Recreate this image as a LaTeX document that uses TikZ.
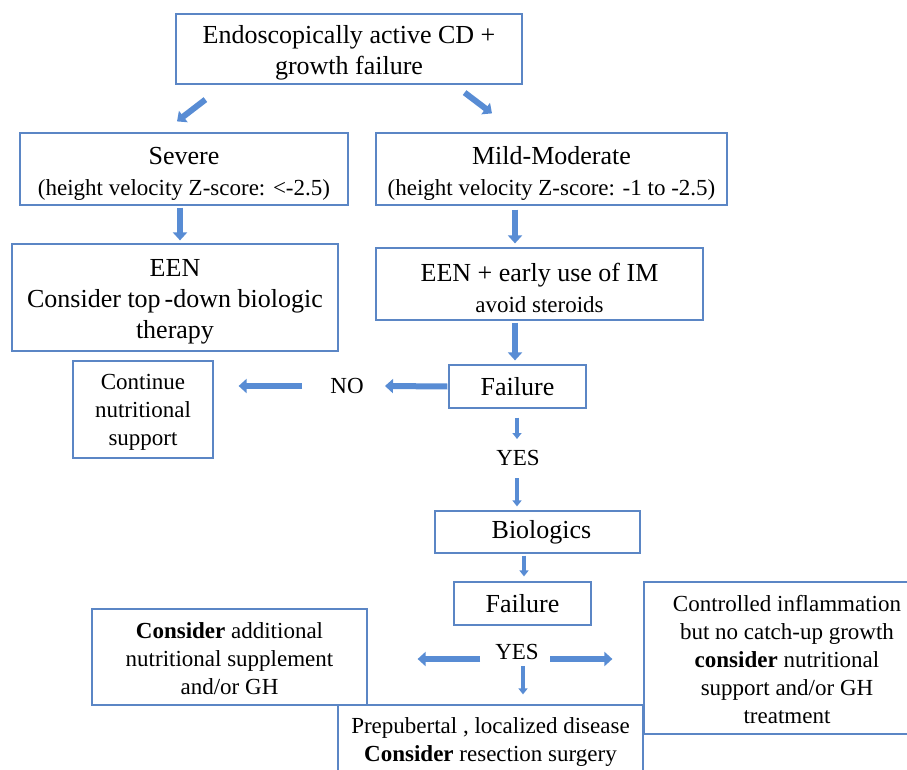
\documentclass[tikz,border=0pt]{standalone}
\usepackage{fontspec}
\setmainfont{Liberation Serif}
\usetikzlibrary{arrows.meta}
\definecolor{boxblue}{RGB}{91,134,197}
\definecolor{arrowblue}{RGB}{88,140,212}
\newcommand{\boxfont}{\fontsize{26}{31}\selectfont}
\newcommand{\notefont}{\fontsize{23}{28}\selectfont}
\newcommand{\bigstrut}{\rule{0pt}{26pt}}
\newcommand{\notestrut}{\rule{0pt}{20pt}}
\tikzset{
  box/.style = {draw=boxblue, line width=1.2pt, align=center, inner sep=0pt, font=\boxfont},
  notebox/.style = {box, font=\notefont},
  answer/.style = {inner sep=0pt, font=\notefont},
  flowarrow/.style = {arrowblue, line width=6pt, -{Triangle[width=14pt,length=8pt]}},
  thinarrow/.style = {arrowblue, line width=3.5pt, -{Triangle[width=9pt,length=6pt]}}
}

\begin{document}
\begin{tikzpicture}[x=1pt, y=-1pt]
\clip (0,0) rectangle (907,770);
\node [box, minimum width=346pt, minimum height=70pt] (top) at (349,49) {\bigstrut Endoscopically active CD +\\growth failure};
\node [box, minimum width=328pt, minimum height=72pt] (severe) at (184,169) {\bigstrut Severe\\{\notefont (height velocity Z-score: <-2.5)}};
\node [box, minimum width=351pt, minimum height=72pt] (mild) at (551.5,169) {\bigstrut Mild-Moderate\\{\notefont (height velocity Z-score: -1 to -2.5)}};
\node [box, minimum width=326pt, minimum height=107pt] (eenA) at (175,297.5) {\bigstrut EEN\\Consider top\hspace{4pt}-down biologic\\therapy};
\node [box, minimum width=327pt, minimum height=72pt] (eenB) at (539.5,284) {\bigstrut EEN + early use of IM\\{\notefont avoid steroids}};
\node [notebox, minimum width=140pt, minimum height=97pt] (cont) at (143,409.5) {\notestrut Continue\\nutritional\\support};
\node [box, minimum width=137pt, minimum height=43pt] (failA) at (517.5,386.5) {Failure};
\node [answer] (no) at (347,386) {NO};
\node [answer] (yesA) at (518,458) {YES};
\node [box, minimum width=205pt, minimum height=42pt] (bio) at (537.5,532) {\hspace{8pt}Biologics};
\node [box, minimum width=137pt, minimum height=43pt] (failB) at (522.5,603.5) {Failure};
\node [answer] (yesB) at (517,652) {YES};
\node [notebox, minimum width=275pt, minimum height=96pt] (addl) at (229.5,657) {\notestrut\textbf{Consider} additional\\nutritional supplement\\and/or GH};
\node [notebox, minimum width=305pt, minimum height=70pt] (prep) at (490.5,740) {\notestrut Prepubertal , localized disease\\\textbf{Consider} resection surgery};
\node [notebox, minimum width=286pt, minimum height=152pt] (ctrl) at (787,658) {\notestrut Controlled inflammation\\but no catch-up growth\\\textbf{consider} nutritional\\support and/or GH\\treatment};
\draw [flowarrow] ([shift={(30,15)}]top.south west) -- ([shift={(-7,-11)}]severe.north);
\draw [flowarrow] ([shift={(-58,8)}]top.south east) -- ([shift={(-59.5,-19)}]mild.north);
\draw [flowarrow] ([shift={(-4,2)}]severe.south) -- ([shift={(5,-3)}]eenA.north);
\draw [flowarrow] ([shift={(-36.5,4)}]mild.south) -- ([shift={(-24.5,-4)}]eenB.north);
\draw [flowarrow] ([shift={(-24.5,2)}]eenB.south) -- ([shift={(-2.5,-4)}]failA.north);
\draw [flowarrow] ([shift={(-1,0)}]failA.west) -- ([shift={(38,0)}]no.center);
\draw [flowarrow] ([shift={(-45,0)}]no.center) -- ([shift={(25,-23.5)}]cont.east);
\draw [thinarrow] ([shift={(-0.5,9)}]failA.south) -- ([shift={(-1,-19)}]yesA.center);
\draw [thinarrow] ([shift={(-1,20)}]yesA.center) -- ([shift={(-20.5,-4)}]bio.north);
\draw [thinarrow] ([shift={(-13.5,2)}]bio.south) -- ([shift={(1.5,-5)}]failB.north);
\draw [flowarrow] ([shift={(-37,7)}]yesB.center) -- ([shift={(50,2)}]addl.east);
\draw [flowarrow] ([shift={(33,7)}]yesB.center) -- ([shift={(-31,1)}]ctrl.west);
\draw [thinarrow] ([shift={(6,14)}]yesB.center) -- ([shift={(32.5,-10)}]prep.north);
\end{tikzpicture}
\end{document}
